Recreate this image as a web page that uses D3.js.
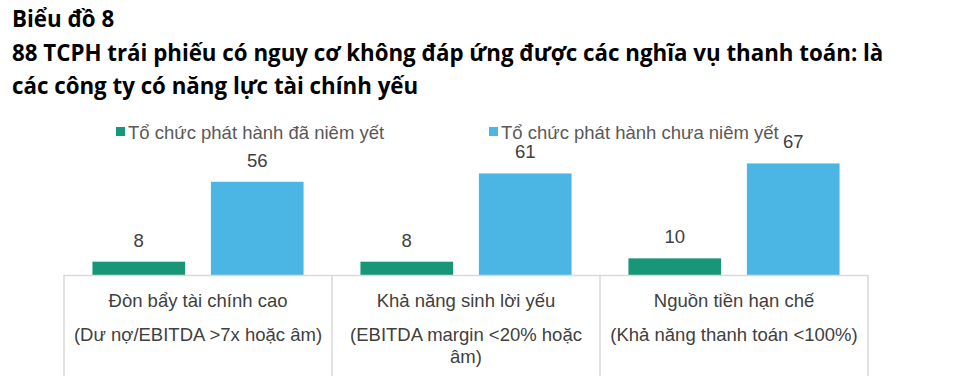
<!DOCTYPE html>
<html>
<head>
<meta charset="utf-8">
<script src="https://cdn.jsdelivr.net/npm/d3@7"></script>
<style>
  body { margin: 0; background: #fff; }
  svg { display: block; }
</style>
</head>
<body>
<div id="chart"></div>
<script>
// data
var categories = ["Đòn bẩy tài chính cao", "Khả năng sinh lời yếu", "Nguồn tiền hạn chế"];
var subLabels = [["(Dư nợ/EBITDA >7x hoặc âm)"], ["(EBITDA margin <20% hoặc", "âm)"], ["(Khả năng thanh toán <100%)"]];
var seriesNames = ["Tổ chức phát hành đã niêm yết", "Tổ chức phát hành chưa niêm yết"];
var listed = [8, 8, 10];
var unlisted = [56, 61, 67];
var colors = ["#179678", "#4bb5e3"];

var width = 954, height = 376;
var svg = d3.select("#chart").append("svg")
    .attr("width", width)
    .attr("height", height);

var labelFont = "'Liberation Sans', Arial, sans-serif";

// title
var titleLines = ["Biểu đồ 8",
    "88 TCPH trái phiếu có nguy cơ không đáp ứng được các nghĩa vụ thanh toán: là",
    "các công ty có năng lực tài chính yếu"];
svg.selectAll(".title").data(titleLines).enter().append("text")
    .attr("class", "title")
    .attr("x", 12)
    .attr("y", function (d, i) { return 27 + i * 33.5; })
    .style("font-family", "'Open Sans', 'Noto Sans', sans-serif")
    .style("font-weight", "bold")
    .style("font-size", "22.3px")
    .style("fill", "#000")
    .text(function (d) { return d; });

var left = 64, right = 868, baseY = 275;

var x0 = d3.scaleBand().domain(categories).range([left, right]).padding(0);
var x1 = d3.scaleBand().domain([0, 1]).range([0, x0.bandwidth()]).paddingInner(0.218).paddingOuter(0.24);
var y = d3.scaleLinear().domain([0, 75]).range([baseY, baseY - 75 * 1.665]);

var groups = svg.selectAll(".grp").data(categories).enter().append("g")
    .attr("class", "grp")
    .attr("transform", function (d) { return "translate(" + x0(d) + ",0)"; });

groups.each(function (d, i) {
    var g = d3.select(this);
    var vals = [listed[i], unlisted[i]];
    vals.forEach(function (v, s) {
        g.append("rect")
            .attr("x", x1(s))
            .attr("width", x1.bandwidth())
            .attr("y", y(v))
            .attr("height", baseY - y(v))
            .attr("fill", colors[s]);
        g.append("text")
            .attr("x", x1(s) + x1.bandwidth() / 2)
            .attr("y", y(v) - 15)
            .attr("text-anchor", "middle")
            .style("font-family", labelFont)
            .style("font-size", "18.5px")
            .style("fill", "#404040")
            .text(v);
    });
    g.append("text")
        .attr("x", x0.bandwidth() / 2)
        .attr("y", 307)
        .attr("text-anchor", "middle")
        .style("font-family", labelFont)
        .style("font-size", "18.5px")
        .style("fill", "#404040")
        .text(d);
    subLabels[i].forEach(function (t, k) {
        g.append("text")
            .attr("x", x0.bandwidth() / 2)
            .attr("y", 341 + k * 22)
            .attr("text-anchor", "middle")
            .style("font-family", labelFont)
            .style("font-size", "18.5px")
            .style("fill", "#404040")
            .text(t);
    });
});

// axis line and category dividers
svg.append("line")
    .attr("x1", left).attr("x2", right)
    .attr("y1", baseY + 0.5).attr("y2", baseY + 0.5)
    .attr("stroke", "#d9d9d9").attr("stroke-width", 1.5);
var edges = categories.map(function (c) { return x0(c); }).concat([right]);
svg.selectAll(".div").data(edges).enter().append("line")
    .attr("x1", function (d) { return d; })
    .attr("x2", function (d) { return d; })
    .attr("y1", baseY)
    .attr("y2", height)
    .attr("stroke", "#d9d9d9").attr("stroke-width", 1.5);

// legend
var legendX = [116, 489];
seriesNames.forEach(function (n, s) {
    svg.append("rect")
        .attr("x", legendX[s]).attr("y", 127)
        .attr("width", 9).attr("height", 9)
        .attr("fill", colors[s]);
    svg.append("text")
        .attr("x", legendX[s] + 12).attr("y", 139)
        .style("font-family", labelFont)
        .style("font-size", "18.5px")
        .style("fill", "#595959")
        .text(n);
});
</script>
</body>
</html>
